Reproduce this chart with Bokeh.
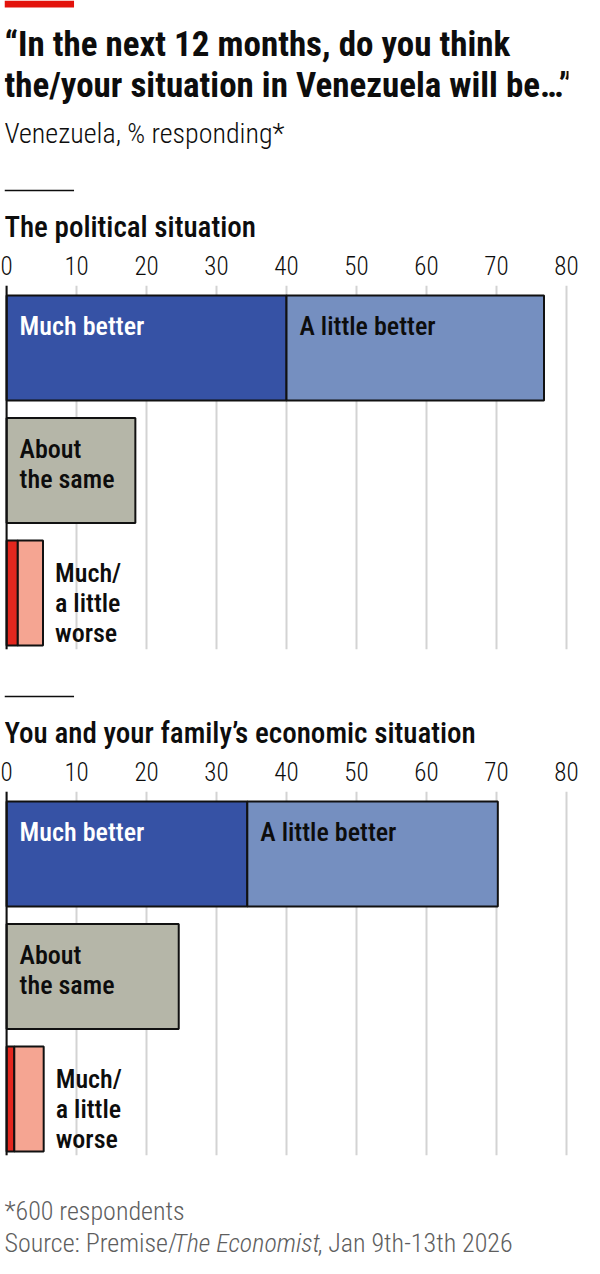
from bokeh.plotting import figure
from bokeh.layouts import column
from bokeh.models import Range1d, Span, FixedTicker
from bokeh.core.properties import value
from bokeh.embed import file_html
from bokeh.resources import INLINE

# ---------------- data ----------------
title_lines = ["“In the next 12 months, do you think",
               "the/your situation in Venezuela will be…”"]
subtitle = "Venezuela, % responding*"
panel_titles = ["The political situation",
                "You and your family’s economic situation"]
much_better = [40.0, 34.4]
little_better = [36.8, 35.8]
about_same = [18.4, 24.6]
much_worse = [1.6, 1.1]
little_worse = [3.6, 4.2]
bar_labels_better = ["Much better", "A little better"]
label_same = "About\nthe same"
label_worse = "Much/\na little\nworse"
ticks = [0, 10, 20, 30, 40, 50, 60, 70, 80]
footnote = "*600 respondents"
source_parts = ["Source: Premise/", "The Economist", ", Jan 9th-13th 2026"]

# ---------------- style ----------------
W = 584
COND = "Roboto Condensed, Liberation Sans Narrow, DejaVu Sans Condensed, sans-serif"
COND_MED = "Roboto Condensed Medium, Roboto Condensed, sans-serif"
COND_LIGHT = "Roboto Condensed Light, Roboto Condensed, sans-serif"
C_MB = "#3652A5"
C_LB = "#758FC0"
C_SAME = "#B5B6A8"
C_MW = "#E3271E"
C_LW = "#F5A592"
TXT = "#0D0D0D"
GREY = "#5E5E5E"
EDGE = "#111111"


def blank(height):
    f = figure(width=W, height=height, x_range=Range1d(0, W), y_range=Range1d(height, 0),
               x_axis_location=None, y_axis_location=None, min_border=0,
               output_backend="svg", toolbar_location=None)
    f.outline_line_color = None
    f.grid.visible = False
    return f


# header
hdr = blank(252)
hdr.quad(left=0, right=72, top=0, bottom=7, fill_color="#E3120B", line_color=None)
hdr.text(x=[0, 0], y=[44, 85], text=title_lines, text_font=value(COND),
         text_font_style="bold", text_font_size="35px", text_color=TXT,
         text_baseline="alphabetic")
hdr.text(x=[0], y=[133], text=[subtitle], text_font=value(COND_LIGHT),
         text_font_size="28px", text_color=TXT, text_baseline="alphabetic")
hdr.segment(x0=[0], y0=[190], x1=[72], y1=[190], line_color=TXT, line_width=1.5)
hdr.text(x=[0], y=[226], text=[panel_titles[0]], text_font=value(COND_MED),
         text_font_size="29px", text_color=TXT, text_baseline="alphabetic")

# mid header
mid = blank(108)
mid.segment(x0=[0], y0=[46], x1=[72], y1=[46], line_color=TXT, line_width=1.5)
mid.text(x=[0], y=[82], text=[panel_titles[1]], text_font=value(COND_MED),
         text_font_size="29px", text_color=TXT, text_baseline="alphabetic")

PITCH = 123.5            # px between bar centres
BAR_H = 106 / PITCH
HALF = BAR_H / 2
TOP = -(356 - 293) / PITCH
FRAME_H = 367


def panel(i):
    p = figure(width=W, height=30 + FRAME_H + 1, x_range=Range1d(-0.3, 80.3),
               y_range=Range1d(TOP + FRAME_H / PITCH, TOP),
               x_axis_location="above", y_axis_location=None,
               min_border_top=30, min_border_bottom=1, min_border_left=4, min_border_right=16,
               output_backend="svg", toolbar_location=None)
    p.outline_line_color = None
    p.ygrid.visible = False
    p.xaxis.ticker = FixedTicker(ticks=ticks)
    p.xgrid.ticker = FixedTicker(ticks=ticks)
    p.xgrid.grid_line_color = "#d3d3d3"
    p.xgrid.grid_line_width = 2
    p.xaxis.axis_line_color = None
    p.xaxis.major_tick_line_color = None
    p.xaxis.minor_tick_line_color = None
    p.xaxis.major_label_text_font = COND_LIGHT
    p.xaxis.major_label_text_font_size = "25px"
    p.xaxis.major_label_text_color = TXT
    p.xaxis.major_label_standoff = 5

    mb, lb, sm, mw, lw = much_better[i], little_better[i], about_same[i], much_worse[i], little_worse[i]
    p.hbar(y=[0, 0], left=[0, mb], right=[mb, mb + lb], height=BAR_H,
           fill_color=[C_MB, C_LB], line_color=EDGE, line_width=2)
    p.hbar(y=[1], left=[0], right=[sm], height=BAR_H, fill_color=C_SAME, line_color=EDGE, line_width=2)
    p.hbar(y=[2, 2], left=[0, mw], right=[mw, mw + lw], height=BAR_H,
           fill_color=[C_MW, C_LW], line_color=EDGE, line_width=2)
    p.add_layout(Span(location=0, dimension="height", line_color=EDGE, line_width=2))

    common = dict(text_font=value(COND_MED), text_font_size="26px", text_baseline="alphabetic")
    p.text(x=[0, mb], y=[-HALF, -HALF], text=bar_labels_better, x_offset=13, y_offset=31,
           text_color=["white", TXT], **common)
    lines = label_same.split("\n")
    p.text(x=[0] * len(lines), y=[1 - HALF] * len(lines), text=lines, x_offset=13,
           y_offset=[31 + 30.5 * k for k in range(len(lines))], text_color=TXT, **common)
    lines = label_worse.split("\n")
    p.text(x=[mw + lw] * len(lines), y=[2 - HALF] * len(lines), text=lines, x_offset=12,
           y_offset=[33 + 30 * k for k in range(len(lines))], text_color=TXT, **common)
    return p


p1 = panel(0)
p2 = panel(1)

ftr = blank(102)
fcommon = dict(text_font=value(COND_LIGHT), text_font_size="26px", text_color=GREY,
               text_baseline="alphabetic")
ftr.text(x=[0], y=[54], text=[footnote], **fcommon)
ftr.text(x=[0], y=[86], text=[source_parts[0]], **fcommon)
ftr.text(x=[175], y=[86], text=[source_parts[1]], text_font_style="italic", **fcommon)
ftr.text(x=[324], y=[86], text=[source_parts[2]], **fcommon)

layout = column(hdr, p1, mid, p2, ftr, spacing=0)
open("out.html", "w").write(file_html(layout, INLINE))
